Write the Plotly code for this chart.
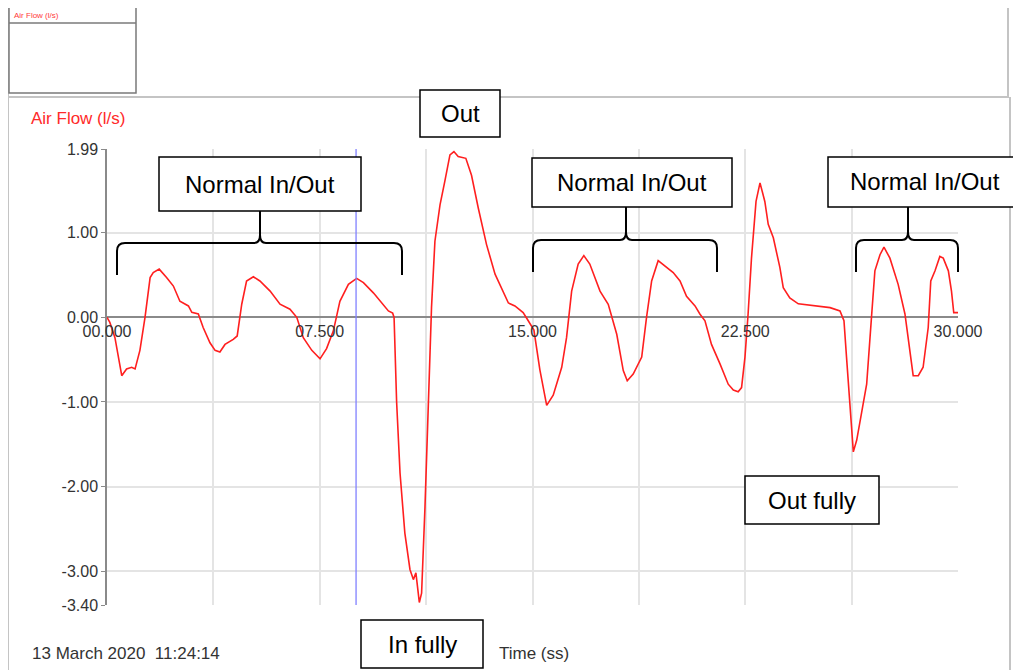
import plotly.graph_objects as go

# ---------------- data ----------------
time_s = [0, 0.1, 0.28, 0.52, 0.69, 0.87, 0.99, 1.16, 1.34, 1.52, 1.63, 1.84, 2.1, 2.34, 2.57,
          2.87, 2.99, 3.22, 3.39, 3.63, 3.81, 3.98, 4.16, 4.45, 4.59, 4.75, 4.92, 5.16, 5.39,
          5.75, 6.1, 6.45, 6.69, 6.92, 7.22, 7.51, 7.74, 7.98, 8.21, 8.51, 8.8, 9.04, 9.39,
          9.74, 9.92, 10.07, 10.12, 10.21, 10.33, 10.5, 10.68, 10.8, 10.89, 11.01, 11.09,
          11.21, 11.33, 11.44, 11.56, 11.74, 11.91, 12.09, 12.23, 12.38, 12.65, 12.85, 13.09,
          13.38, 13.68, 13.91, 14.15, 14.38, 14.67, 14.85, 15.05, 15.26, 15.5, 15.73, 16.03,
          16.2, 16.38, 16.61, 16.81, 17.02, 17.38, 17.67, 17.97, 18.2, 18.34, 18.55, 18.85,
          19.02, 19.2, 19.43, 19.67, 19.96, 20.2, 20.43, 20.73, 20.9, 21.08, 21.31, 21.61,
          21.9, 22.08, 22.25, 22.37, 22.49, 22.6, 22.72, 22.88, 23.02, 23.19, 23.31, 23.49,
          23.72, 23.84, 24.07, 24.37, 24.9, 25.49, 25.84, 25.98, 26.07, 26.19, 26.31, 26.43,
          26.6, 26.78, 26.95, 27.07, 27.25, 27.39, 27.6, 27.89, 28.13, 28.25, 28.42, 28.6,
          28.77, 28.95, 29.04, 29.19, 29.36, 29.48, 29.66, 29.77, 29.85, 30.0]
air_flow = [0, -0.06, -0.24, -0.69, -0.61, -0.59, -0.61, -0.39, 0, 0.47, 0.53, 0.57, 0.47, 0.37,
            0.19, 0.135, 0.06, 0.04, -0.12, -0.30, -0.39, -0.41, -0.32, -0.26, -0.22, 0.155,
            0.43, 0.48, 0.43, 0.31, 0.155, 0.096, 0, -0.24, -0.39, -0.49, -0.37, -0.16, 0.19,
            0.39, 0.46, 0.41, 0.29, 0.155, 0.076, 0.05, 0.0, -1.0, -1.84, -2.55, -2.98, -3.10,
            -3.02, -3.37, -3.26, -2.24, -1.06, 0.115, 0.9, 1.33, 1.61, 1.92, 1.96, 1.90, 1.88,
            1.68, 1.29, 0.86, 0.51, 0.35, 0.17, 0.135, 0.056, -0.04, -0.15, -0.62, -1.04,
            -0.92, -0.59, -0.24, 0.31, 0.63, 0.73, 0.63, 0.31, 0.155, -0.20, -0.63, -0.75,
            -0.67, -0.47, 0, 0.43, 0.67, 0.61, 0.53, 0.43, 0.25, 0.135, 0.04, -0.04, -0.32,
            -0.55, -0.79, -0.86, -0.88, -0.83, -0.47, 0.04, 0.70, 1.37, 1.59, 1.37, 1.10, 0.94,
            0.59, 0.35, 0.23, 0.16, 0.135, 0.115, 0.076, -0.04, -0.47, -1.06, -1.59, -1.45,
            -1.14, -0.79, 0, 0.55, 0.74, 0.83, 0.70, 0.39, 0.04, -0.28, -0.69, -0.69, -0.59,
            -0.12, 0.43, 0.55, 0.72, 0.70, 0.55, 0.31, 0.056, 0.056]

x_range = [0, 30]
x_tick_vals = [0, 7.5, 15, 22.5, 30]
x_tick_text = ["00.000", "07.500", "15.000", "22.500", "30.000"]
x_minor_vals = [3.75, 11.25, 18.75, 26.25]
y_range = [-3.40, 1.99]
y_tick_vals = [1.99, 1.00, 0.00, -1.00, -2.00, -3.00, -3.40]
y_tick_text = ["1.99", "1.00", "0.00", "-1.00", "-2.00", "-3.00", "-3.40"]
y_grid_vals = [1, -1, -2, -3]
cursor_time = 8.78

# ---------------- layout helpers (page pixel -> paper) ----------------
# the page body has an 8px margin, so the figure is placed at (8, 8)
OFF = 8
W, H = 1021 - OFF, 670 - OFF
PL, PR, PT, PB = 107, 958, 149, 605          # plot area in page pixels
L, T = PL - OFF, PT - OFF
R, B = W - (PR - OFF), H - (PB - OFF)
PW, PH = PR - PL, PB - PT


def px(x):
    return (x - PL) / PW


def py(y):
    return (PB - y) / PH


FONT = "Liberation Sans, Arial, sans-serif"

fig = go.Figure(go.Scatter(x=time_s, y=air_flow, mode="lines",
                           line=dict(color="#ff1f1f", width=1.6), hoverinfo="skip"))

shapes = []
# outer frames
frame = dict(color="#c4c4c4", width=2)
shapes.append(dict(type="rect", xref="paper", yref="paper", x0=px(8), x1=px(1008), y0=py(5), y1=py(97), line=frame))
shapes.append(dict(type="line", xref="paper", yref="paper", x0=px(8), x1=px(8), y0=py(97), y1=py(672), line=frame))
shapes.append(dict(type="line", xref="paper", yref="paper", x0=px(1010), x1=px(1010), y0=py(97), y1=py(672), line=frame))
# small legend box
small = dict(color="#7a7a7a", width=1.5)
shapes.append(dict(type="rect", xref="paper", yref="paper", x0=px(9), x1=px(136), y0=py(7), y1=py(93), line=small, fillcolor="white"))
shapes.append(dict(type="line", xref="paper", yref="paper", x0=px(9), x1=px(136), y0=py(23), y1=py(23), line=small))
# cursor line
shapes.append(dict(type="line", xref="x", yref="paper", x0=cursor_time, x1=cursor_time, y0=0, y1=1,
                   line=dict(color="#8080ff", width=1.3)))

# annotation boxes
boxes = [
    ((159, 157, 361, 211), "Normal In/Out"),
    ((420, 90, 500, 137), "Out"),
    ((532, 158, 732, 207), "Normal In/Out"),
    ((828, 157, 1021, 207), "Normal In/Out"),
    ((361, 620, 483, 668), "In fully"),
    ((745, 476, 879, 524), "Out fully"),
]
annotations = []
for (x0, y0, x1, y1), txt in boxes:
    shapes.append(dict(type="rect", xref="paper", yref="paper", x0=px(x0), x1=px(x1), y0=py(y0), y1=py(y1),
                       line=dict(color="black", width=1.5), fillcolor="white", layer="above"))
    annotations.append(dict(xref="paper", yref="paper", x=px((x0 + x1) / 2), y=py((y0 + y1) / 2),
                            text=txt, showarrow=False, xanchor="center", yanchor="middle",
                            font=dict(family=FONT, size=24, color="black")))


# curly brackets
def brace(xl, xr, xc, yb, yt, ytop):
    r = 8
    def P(x, y):
        return f"{px(x):.5f},{py(y):.5f}"
    left = (f"M{P(xl, yb)} L{P(xl, yt + r)} Q{P(xl, yt)} {P(xl + r, yt)} "
            f"L{P(xc - 6, yt)} Q{P(xc, yt)} {P(xc, yt - r)} L{P(xc, ytop)}")
    right = (f"M{P(xr, yb)} L{P(xr, yt + r)} Q{P(xr, yt)} {P(xr - r, yt)} "
             f"L{P(xc + 6, yt)} Q{P(xc, yt)} {P(xc, yt - r)}")
    return [dict(type="path", xref="paper", yref="paper", path=p, line=dict(color="black", width=2))
            for p in (left, right)]


shapes += brace(117, 402, 260, 275, 243, 211)
shapes += brace(533, 717, 626, 272, 240, 207)
shapes += brace(856, 958, 908, 272, 240, 207)

# texts
annotations += [
    dict(xref="paper", yref="paper", x=px(29), y=py(118), text="Air Flow (l/s)", showarrow=False,
         xanchor="left", yanchor="middle", font=dict(family=FONT, size=17, color="#ff2a2a")),
    dict(xref="paper", yref="paper", x=px(12), y=py(15), text="Air Flow (l/s)", showarrow=False,
         xanchor="left", yanchor="middle", font=dict(family=FONT, size=8, color="#ff3b3b")),
    dict(xref="paper", yref="paper", x=px(30), y=py(653), text="13 March 2020&nbsp;&nbsp;11:24:14",
         showarrow=False, xanchor="left", yanchor="middle", font=dict(family=FONT, size=17, color="#333333")),
    dict(xref="paper", yref="paper", x=px(497), y=py(653), text="Time (ss)", showarrow=False,
         xanchor="left", yanchor="middle", font=dict(family=FONT, size=17, color="#333333")),
]

fig.update_layout(
    width=W, height=H,
    margin=dict(l=L, r=R, t=T, b=B, pad=0),
    paper_bgcolor="white", plot_bgcolor="white",
    showlegend=False,
    shapes=shapes,
    annotations=annotations,
    xaxis=dict(range=x_range, tickmode="array", tickvals=x_tick_vals, ticktext=x_tick_text,
               showgrid=True, gridcolor="#e4e4e4", gridwidth=1.5,
               minor=dict(tickvals=x_minor_vals, showgrid=True, gridcolor="#e4e4e4", gridwidth=1.5, ticks=""),
               zeroline=False, showline=False, ticks="",
               anchor="free", position=(0 - y_range[0]) / (y_range[1] - y_range[0]),
               ticklabelstandoff=3,
               tickfont=dict(family=FONT, size=16, color="#333333"), fixedrange=True),
    yaxis=dict(range=y_range, tickmode="array", tickvals=y_tick_vals, ticktext=y_tick_text,
               showgrid=False,
               minor=dict(tickvals=y_grid_vals, showgrid=True, gridcolor="#e4e4e4", gridwidth=1.5, ticks=""),
               zeroline=True, zerolinecolor="#8a8a8a", zerolinewidth=2,
               showline=True, linecolor="#8a8a8a", linewidth=1.5,
               ticks="outside", ticklen=4, tickcolor="#8a8a8a",
               tickfont=dict(family=FONT, size=16, color="#333333"), fixedrange=True),
)

fig.write_html("out.html")
